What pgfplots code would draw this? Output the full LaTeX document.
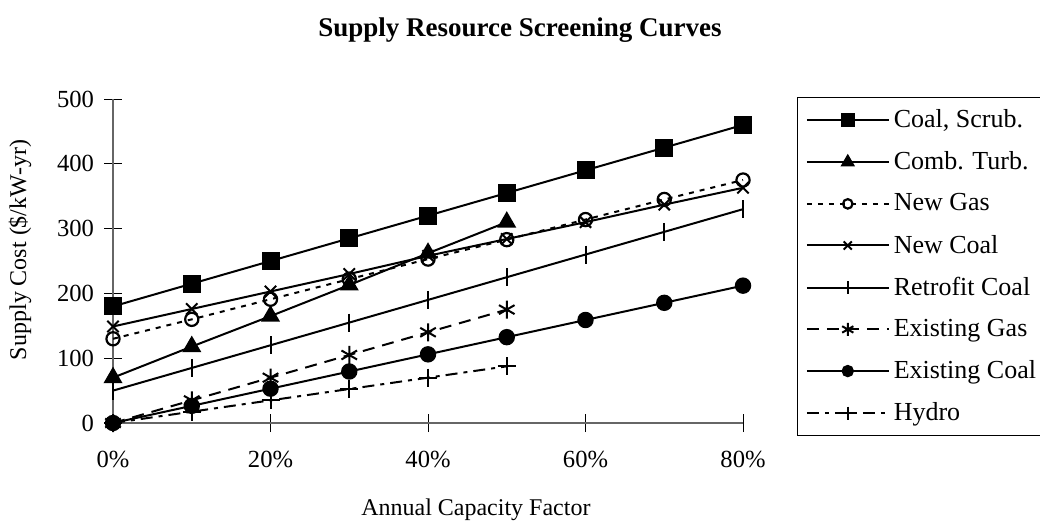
\documentclass[border=0pt]{standalone}
\usepackage{pgfplots}
\pgfplotsset{compat=1.18}
\usepackage{fontspec}
\setmainfont{Liberation Serif}
\begin{document}
\begin{tikzpicture}
\begin{axis}[
  scale only axis, width=315pt, height=162pt,
  xmin=0, xmax=80, ymin=0, ymax=500,
  axis lines*=left,
  axis line style={draw=black!60, line width=0.9pt},
  xtick={0,20,40,60,80}, xticklabels={0\%,20\%,40\%,60\%,80\%},
  ytick={0,100,200,300,400,500},
  tick align=center, major tick length=9pt,
  tick style={black, line width=0.5pt},
  /pgf/number format/assume math mode=true,
  ticklabel style={font=\fontsize{12.3}{14}\selectfont},
  xticklabel style={yshift=-6pt},
  yticklabel style={xshift=-1.5pt},
  clip=false,
  title={Supply Resource Screening Curves},
  title style={at={(0.646,1.219)}, anchor=center, yshift=-7pt, font=\bfseries\fontsize{13.5}{16}\selectfont},
  xlabel={Annual Capacity Factor},
  xlabel style={at={(0.576,-0.2685)}, anchor=center, font=\fontsize{12}{14}\selectfont},
  ylabel={Supply Cost (\$/kW-yr)},
  ylabel style={at={(-0.1476,0.534)}, anchor=center, font=\fontsize{12}{14}\selectfont},
  legend style={at={(1.086,1.006)}, anchor=north west, draw=black, line width=0.6pt,
    font=\fontsize{13}{15}\selectfont, row sep=6.5pt, inner sep=4pt},
  legend cell align=left,
  legend image code/.code={\draw[mark repeat=2,mark phase=2,#1,every mark/.append style={scale=0.72}] plot coordinates {(0cm,0cm) (0.72cm,0cm) (1.44cm,0cm)};},
  every axis plot/.append style={line width=1pt, black},
]
\addplot[mark=square*, mark size=4pt, mark options={solid, fill=black}] coordinates {
(0,180) (10,215) (20,250) (30,285) (40,320) (50,355) (60,390) (70,425) (80,460)};
\addlegendentry{Coal, Scrub.}
\addplot[mark=triangle*, mark size=4.5pt, mark options={solid, fill=black}] coordinates {
(0,70) (10,118) (20,165) (30,213) (40,262) (50,310)};
\addlegendentry{Comb. Turb.}
\addplot[dash pattern=on 2.5pt off 3pt, mark=o, mark size=3.3pt, mark options={solid, fill=white, line width=1.1pt}] coordinates {
(0,130) (10,160) (20,191) (30,222) (40,253) (50,283) (60,314) (70,345) (80,375)};
\addlegendentry{New Gas}
\addplot[mark=x, mark size=4pt, mark options={solid}] coordinates {
(0,149) (10,176) (20,203) (30,230) (40,258) (50,284) (60,310) (70,337) (80,363)};
\addlegendentry{New Coal}
\addplot[mark=|, mark size=4.5pt, mark options={solid}] coordinates {
(0,50) (10,85) (20,120) (30,155) (40,190) (50,225) (60,260) (70,295) (80,330)};
\addlegendentry{Retrofit Coal}
\addplot[dash pattern=on 6pt off 4pt, mark=asterisk, mark size=4.5pt, mark options={solid}] coordinates {
(0,0) (10,35) (20,70) (30,105) (40,140) (50,175)};
\addlegendentry{Existing Gas}
\addplot[mark=*, mark size=3.6pt, mark options={solid, fill=black}] coordinates {
(0,0) (10,26.5) (20,53) (30,79.5) (40,106) (50,132.5) (60,159) (70,185.5) (80,212)};
\addlegendentry{Existing Coal}
\addplot[dash pattern=on 6pt off 3pt on 2pt off 3pt, mark=+, mark size=4.5pt, mark options={solid}] coordinates {
(0,0) (10,17.5) (20,35) (30,52.5) (40,70) (50,87.5)};
\addlegendentry{Hydro}
\coordinate (bbl) at (rel axis cs:-0.1794,-0.3272);
\coordinate (btr) at (rel axis cs:1.4714,1.3056);
\end{axis}
\pgfresetboundingbox
\path[use as bounding box] (bbl) rectangle (btr);
\end{tikzpicture}
\end{document}
